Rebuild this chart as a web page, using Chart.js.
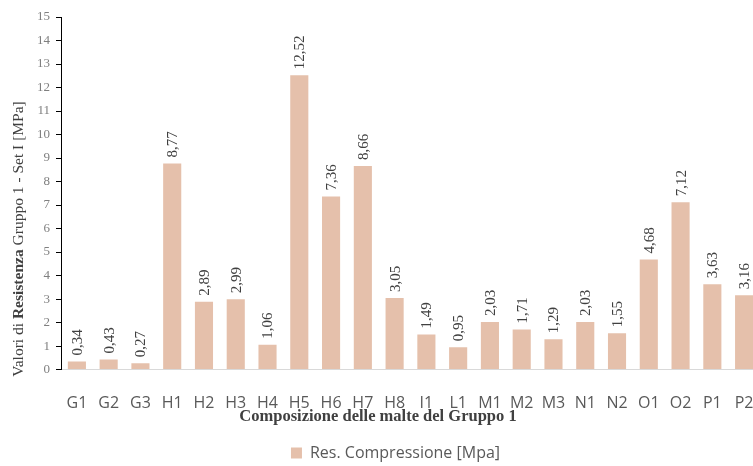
<!DOCTYPE html>
<html>
<head>
<meta charset="utf-8">
<script src="https://cdn.jsdelivr.net/npm/chart.js@4"></script>
<style>
  html, body { margin: 0; padding: 0; background: #fff; overflow: hidden; }
  #wrap { width: 760px; height: 466px; }
</style>
</head>
<body>
<div id="wrap"><canvas id="chart"></canvas></div>
<script>
// dati
const categorie = ['G1','G2','G3','H1','H2','H3','H4','H5','H6','H7','H8','I1','L1','M1','M2','M3','N1','N2','O1','O2','P1','P2'];
const valori = [0.34,0.43,0.27,8.77,2.89,2.99,1.06,12.52,7.36,8.66,3.05,1.49,0.95,2.03,1.71,1.29,2.03,1.55,4.68,7.12,3.63,3.16];
const nomeSerie = 'Res. Compressione [Mpa]';
const titoloX = 'Composizione delle malte del Gruppo 1';

const SERIF = '"Liberation Serif", "Times New Roman", serif';
const SANS = '"Open Sans", "Noto Sans", sans-serif';

// etichette verticali sopra le barre
const etichette = {
    id: 'etichette',
    afterDatasetsDraw(chart) {
        const ctx = chart.ctx;
        const meta = chart.getDatasetMeta(0);
        ctx.save();
        ctx.font = '15px ' + SERIF;
        ctx.fillStyle = '#404040';
        ctx.textAlign = 'left';
        ctx.textBaseline = 'middle';
        meta.data.forEach((bar, i) => {
            ctx.save();
            ctx.translate(bar.x + 1, bar.y - 6);
            ctx.rotate(-Math.PI / 2);
            ctx.fillText(valori[i].toFixed(2).replace('.', ','), 0, 0);
            ctx.restore();
        });
        ctx.restore();
    }
};

// titoli degli assi (Y con "Resistenza" in grassetto, X centrato sulla figura)
const titoli = {
    id: 'titoli',
    afterDraw(chart) {
        const ctx = chart.ctx;
        const parti = [
            ['Valori di ', 'normal'],
            ['Resistenza', 'bold'],
            [' Gruppo 1 - Set I [MPa]', 'normal']
        ];
        ctx.save();
        let tot = 0;
        parti.forEach(p => {
            ctx.font = p[1] + ' 15.5px ' + SERIF;
            tot += ctx.measureText(p[0]).width;
        });
        ctx.translate(19, 239);
        ctx.rotate(-Math.PI / 2);
        ctx.textBaseline = 'middle';
        ctx.fillStyle = '#404040';
        let x = -tot / 2;
        parti.forEach(p => {
            ctx.font = p[1] + ' 15.5px ' + SERIF;
            ctx.fillText(p[0], x, 0);
            x += ctx.measureText(p[0]).width;
        });
        ctx.restore();

        const sx = chart.scales.x;
        ctx.save();
        ctx.font = 'bold 16.5px ' + SERIF;
        ctx.fillStyle = '#404040';
        ctx.textAlign = 'center';
        ctx.textBaseline = 'middle';
        ctx.fillText(titoloX, 378, sx.top + 47);
        ctx.restore();
    }
};

new Chart(document.getElementById('chart'), {
    type: 'bar',
    data: {
        labels: categorie,
        datasets: [{
            label: nomeSerie,
            data: valori,
            backgroundColor: '#E5C0AB',
            categoryPercentage: 1,
            barPercentage: 0.57
        }]
    },
    options: {
        responsive: true,
        maintainAspectRatio: false,
        animation: false,
        layout: { padding: { left: 31, top: 17, right: 0, bottom: -5 } },
        plugins: {
            legend: {
                position: 'bottom',
                labels: {
                    boxWidth: 11,
                    boxHeight: 11,
                    color: '#595959',
                    font: { family: SANS, size: 16 },
                    padding: 3
                }
            },
            tooltip: { enabled: false }
        },
        scales: {
            x: {
                // tacche invisibili per distanziare le etichette senza padding laterale
                grid: {
                    drawOnChartArea: false,
                    drawTicks: true,
                    tickLength: 18,
                    tickColor: 'rgba(0,0,0,0)'
                },
                border: { color: '#d9d9d9', width: 1 },
                ticks: {
                    color: '#595959',
                    font: { family: SANS, size: 16 },
                    padding: 6,
                    maxRotation: 0,
                    autoSkip: false
                },
                title: {
                    // spazio riservato, il testo è disegnato dal plugin
                    display: true,
                    text: titoloX,
                    color: 'rgba(0,0,0,0)',
                    font: { family: SERIF, size: 6 },
                    padding: { top: 0, bottom: 16 }
                }
            },
            y: {
                min: 0,
                max: 15,
                grid: {
                    drawOnChartArea: false,
                    color: '#000',
                    tickLength: 5
                },
                border: { color: '#000', width: 1 },
                ticks: {
                    stepSize: 1,
                    color: '#7f7f7f',
                    font: { family: SERIF, size: 13 },
                    padding: 6
                }
            }
        }
    },
    plugins: [etichette, titoli]
});
</script>
</body>
</html>
